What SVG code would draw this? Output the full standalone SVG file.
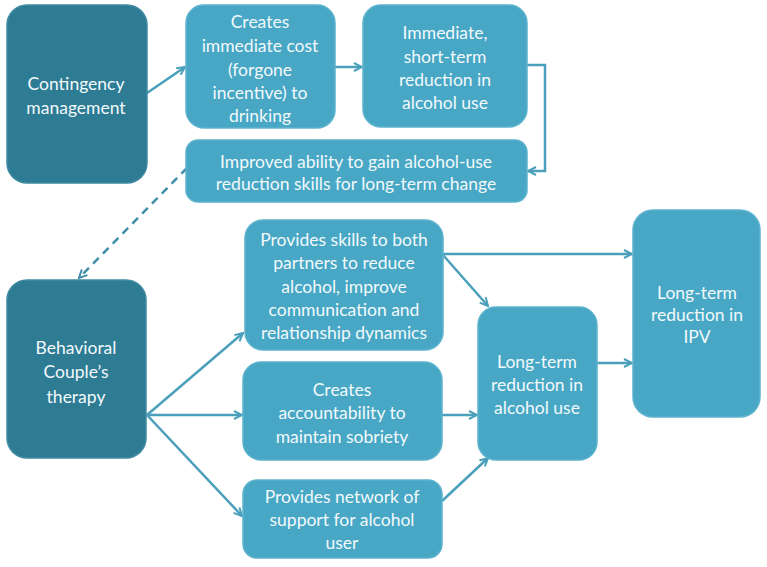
<svg xmlns="http://www.w3.org/2000/svg" width="767" height="567" viewBox="0 0 767 567">
<defs>
<style>
.dark{fill:#2e7c94;stroke:#3f8aa1;stroke-width:1.5}
.light{fill:#47a7c5;stroke:#5db3cd;stroke-width:1.5}
text{font-family:Lato,"Open Sans",sans-serif;font-size:17.5px;fill:#f2f9fb;text-anchor:middle}
.c{fill:none;stroke:#4a9fba;stroke-width:2.5}
.d{fill:none;stroke:#3f8fa8;stroke-width:2.5;stroke-dasharray:8 6}
</style>
<marker id="a" viewBox="0 0 10 10" refX="9" refY="5" markerWidth="4" markerHeight="4" orient="auto" markerUnits="strokeWidth">
<path d="M1,1 L9,5 L1,9" fill="none" stroke="#4a9fba" stroke-width="2"/>
</marker>
<marker id="ad" viewBox="0 0 10 10" refX="9" refY="5" markerWidth="4" markerHeight="4" orient="auto" markerUnits="strokeWidth">
<path d="M1,1 L9,5 L1,9" fill="none" stroke="#3f8fa8" stroke-width="2"/>
</marker>
</defs>
<rect width="767" height="567" fill="#ffffff"/>
<g id="connectors">
<path class="c" d="M147,93 L185,67" marker-end="url(#a)"/>
<path class="c" d="M335,67 L362,67" marker-end="url(#a)"/>
<path class="c" d="M527,65 L545,65 L545,171 L528,171" marker-end="url(#a)"/>
<path class="d" d="M187,168 L79,278" marker-end="url(#ad)"/>
<path class="c" d="M147,415 L243,333" marker-end="url(#a)"/>
<path class="c" d="M147,415 L242,415" marker-end="url(#a)"/>
<path class="c" d="M147,415 L242,516" marker-end="url(#a)"/>
<path class="c" d="M443,254 L632,254" marker-end="url(#a)"/>
<path class="c" d="M443,255 L488,306" marker-end="url(#a)"/>
<path class="c" d="M597,363 L632,363" marker-end="url(#a)"/>
<path class="c" d="M437,415 L477,415" marker-end="url(#a)"/>
<path class="c" d="M442,501 L488,458" marker-end="url(#a)"/>
</g>
<g id="contingency">
<rect class="dark" x="7" y="5" width="140" height="178" rx="20"/>
<text x="76" y="90">Contingency</text>
<text x="76" y="114">management</text>
</g>
<g id="cost">
<rect class="light" x="186" y="5" width="149" height="123" rx="18"/>
<text x="260" y="28">Creates</text>
<text x="260" y="52">immediate cost</text>
<text x="260" y="76">(forgone</text>
<text x="260" y="99">incentive) to</text>
<text x="260" y="122">drinking</text>
</g>
<g id="shortterm">
<rect class="light" x="363" y="5" width="164" height="122" rx="18"/>
<text x="445" y="39">Immediate,</text>
<text x="445" y="63">short-term</text>
<text x="445" y="86">reduction in</text>
<text x="445" y="109">alcohol use</text>
</g>
<g id="improved">
<rect class="light" x="186" y="140" width="341" height="62" rx="12"/>
<text x="356" y="168">Improved ability to gain alcohol-use</text>
<text x="356" y="190">reduction skills for long-term change</text>
</g>
<g id="bct">
<rect class="dark" x="7" y="280" width="139" height="178" rx="20"/>
<text x="76" y="354">Behavioral</text>
<text x="76" y="378">Couple’s</text>
<text x="76" y="403">therapy</text>
</g>
<g id="skills">
<rect class="light" x="245" y="220" width="198" height="130" rx="18"/>
<text x="344" y="246">Provides skills to both</text>
<text x="344" y="269">partners to reduce</text>
<text x="344" y="293">alcohol, improve</text>
<text x="344" y="316">communication and</text>
<text x="344" y="339">relationship dynamics</text>
</g>
<g id="accountability">
<rect class="light" x="243" y="362" width="199" height="98" rx="18"/>
<text x="342" y="396">Creates</text>
<text x="342" y="419">accountability to</text>
<text x="342" y="443">maintain sobriety</text>
</g>
<g id="network">
<rect class="light" x="243" y="480" width="199" height="78" rx="14"/>
<text x="342" y="503">Provides network of</text>
<text x="342" y="526">support for alcohol</text>
<text x="342" y="549">user</text>
</g>
<g id="ltalcohol">
<rect class="light" x="478" y="307" width="119" height="153" rx="18"/>
<text x="537" y="368">Long-term</text>
<text x="537" y="391">reduction in</text>
<text x="537" y="414">alcohol use</text>
</g>
<g id="ltipv">
<rect class="light" x="633" y="210" width="127" height="207" rx="20"/>
<text x="697" y="299">Long-term</text>
<text x="697" y="321">reduction in</text>
<text x="697" y="343">IPV</text>
</g>
</svg>
